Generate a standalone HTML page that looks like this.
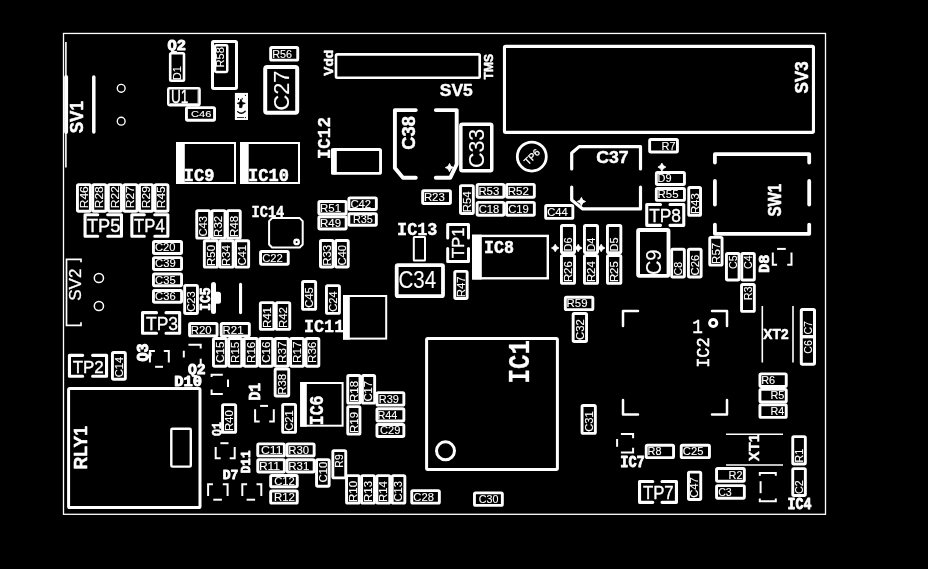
<!DOCTYPE html>
<html><head><meta charset="utf-8"><title>PCB silkscreen</title>
<style>html,body{margin:0;padding:0;background:#000;overflow:hidden}svg{display:block;will-change:transform}
text{font-size:200px;fill:#fff;stroke:#fff;stroke-linejoin:round;font-family:"Liberation Sans",sans-serif}
text.sb{font-weight:bold}
text.m,text.mb{font-family:"Liberation Mono",monospace}
text.mb{font-weight:bold}
</style></head>
<body><svg width="928" height="569" viewBox="0 0 928 569" fill="none" stroke="#fff">
<rect x="0" y="0" width="928" height="569" fill="#000" stroke="none"/>
<rect x="63.5" y="33.45" width="762" height="480.85" rx="0" stroke-width="1.3"/>
<path d="M65.9 42L65.9 167.5" stroke-width="1.6" stroke-linecap="butt"/>
<path d="M66.1 77L66.1 132" stroke-width="4" stroke-linecap="round"/>
<path d="M93.8 77L93.8 132" stroke-width="3.5" stroke-linecap="round"/>
<text class="sb" transform="translate(83.5 132.7) rotate(-90) scale(0.08501 0.08803) translate(-6 -2)" stroke-width="5.78">SV1</text>
<circle cx="121.2" cy="88.3" r="3.9" stroke-width="1.4"/>
<circle cx="121.2" cy="121.2" r="3.9" stroke-width="1.4"/>
<text class="mb" transform="translate(168 50.5) rotate(0) scale(0.07692 0.07500) translate(-7 -2)" stroke-width="13.16">Q2</text>
<rect x="170.2" y="53.3" width="13.8" height="27.4" rx="1.2" stroke-width="2.6"/>
<text class="s" transform="translate(180.6 79.3) rotate(-90) scale(0.05522 0.05290) translate(-16 0)" stroke-width="2.22">D1</text>
<rect x="212.5" y="41.5" width="24" height="47" rx="1.2" stroke-width="3"/>
<rect x="215.05" y="45.15" width="12.2" height="26.9" rx="1.2" stroke-width="2.5"/>
<text class="s" transform="translate(224.5 66.5) rotate(-90) scale(0.05539 0.05282) translate(-16 -2)" stroke-width="2.22">R58</text>
<rect x="168.25" y="88.25" width="31.3" height="17" rx="1.2" stroke-width="2.5"/>
<text class="s" transform="translate(172 103.4) rotate(0) scale(0.06840 0.09071) translate(-15 -2)" stroke-width="3.77">U1</text>
<path d="M170 103.6L198 103.6" stroke-width="0.8" stroke-linecap="butt"/>
<path d="M198 90L198 104" stroke-width="0.8" stroke-linecap="butt"/>
<rect x="186.45" y="107.65" width="28.1" height="12.6" rx="1.2" stroke-width="2.9"/>
<text class="s" transform="translate(191.5 117.5) rotate(0) scale(0.05587 0.04930) translate(-10 -2)" stroke-width="2.28">C46</text>
<rect x="234.9" y="92.9" width="13.1" height="27.1" fill="#fff" stroke="none"/>
<g stroke="#000" fill="#000" stroke-linecap="round" stroke-linejoin="round"><title>IC3</title><path d="M241 99.5L242.3 102.5L245.3 103.3L242.3 104.3L241.8 107.6L239.6 107.6L239.8 104.3L237.3 103.3L239.6 102.5Z" stroke-width="0.9"/><path d="M238.5 98.5L238.5 99.6M242.2 98.3L242.2 99.2M245.4 95.3L245.4 95.6M245.4 117.4L245.4 117.7" stroke-width="1"/><path d="M237.6 111.6Q241.3 115.2 245.2 111.2" fill="none" stroke-width="1.3"/><path d="M237.4 117.5L243.6 117.5" stroke-width="0.8"/></g>
<rect x="270.65" y="47.45" width="27.1" height="12.7" rx="1.2" stroke-width="2.9"/>
<text class="s" transform="translate(273 58) rotate(0) scale(0.05394 0.05211) translate(-16 -2)" stroke-width="2.26">R56</text>
<rect x="265.2" y="67" width="32" height="45.7" rx="2" stroke-width="4"/>
<text class="s" transform="translate(289.4 109.4) rotate(-90) scale(0.10865 0.11338) translate(-10 -2)" stroke="none">C27</text>
<rect x="336" y="54.4" width="143.7" height="23.3" rx="1.2" stroke-width="2.6"/>
<text class="sb" transform="translate(333 75.6) rotate(-90) scale(0.06868 0.06599) translate(-1 -2)" stroke-width="7.43">Vdd</text>
<text class="sb" transform="translate(492.7 79.3) rotate(-90) scale(0.06053 0.06831) translate(-2 -2)" stroke-width="7.76">TMS</text>
<text class="sb" transform="translate(440.3 96.5) rotate(0) scale(0.08719 0.08451) translate(-6 -2)" stroke-width="5.82">SV5</text>
<rect x="504.45" y="46.35" width="309" height="86" rx="1.2" stroke-width="3.1"/>
<text class="sb" transform="translate(808 93) rotate(-90) scale(0.08493 0.08803) translate(-6 -2)" stroke-width="5.78">SV3</text>
<rect x="177" y="143" width="58" height="40" rx="0" stroke-width="2"/>
<rect x="176" y="142" width="8.8" height="42" fill="#fff" stroke="none"/>
<text class="mb" transform="translate(185 181) rotate(0) scale(0.08529 0.09559) translate(-15 -2)" stroke-width="5.53">IC9</text>
<rect x="241" y="143" width="58" height="40" rx="0" stroke-width="2"/>
<rect x="240" y="142" width="8.7" height="42" fill="#fff" stroke="none"/>
<text class="mb" transform="translate(249.2 181) rotate(0) scale(0.08546 0.09559) translate(-15 -2)" stroke-width="5.52">IC10</text>
<rect x="332.55" y="149.45" width="48" height="23.9" rx="1.2" stroke-width="2.9"/>
<rect x="331.1" y="148.5" width="5.7" height="25.8" fill="#fff" stroke="none"/>
<text class="mb" transform="translate(330 158) rotate(-90) scale(0.08830 0.08824) translate(-15 -2)" stroke-width="4.53">IC12</text>
<path d="M415.8 110.1L394.9 110.1L394.9 168L403 177.8L415.8 177.8" stroke-width="3.9" stroke-linecap="round" stroke-linejoin="round"/>
<path d="M435.8 110.1L456.7 110.1L456.7 164.3L450.2 177.8L435.8 177.8" stroke-width="3.9" stroke-linecap="round" stroke-linejoin="round"/>
<path d="M449.5 163.4L450.9 166.2L453.7 167.6L450.9 169L449.5 171.8L448.1 169L445.3 167.6L448.1 166.2Z" fill="#fff" stroke-width="0.8" stroke-linejoin="round"/>
<text class="sb" transform="translate(415.2 149) rotate(-90) scale(0.09150 0.09296) translate(-8 -2)" stroke-width="5.42">C38</text>
<rect x="460.85" y="124.15" width="30.9" height="46.7" rx="1.5" stroke-width="3.5"/>
<text class="s" transform="translate(484 167) rotate(-90) scale(0.10716 0.11268) translate(-10 -2)" stroke="none">C33</text>
<circle cx="531.8" cy="156.6" r="14.5" stroke-width="2.8"/>
<text transform="translate(531.8 156.6) rotate(-45)" x="0" y="3.6" text-anchor="middle" style="font-size:9.8px" stroke-width="0.3">TP6</text>
<path d="M571.7 169L571.7 153L579.2 146.6L640.5 146.6L640.5 169" stroke-width="3.2" stroke-linecap="round" stroke-linejoin="round"/>
<path d="M571.7 187L571.7 200L582.7 208.9L640.5 208.9L640.5 187" stroke-width="3.2" stroke-linecap="round" stroke-linejoin="round"/>
<path d="M581.4 197.3L582.8 200.1L585.6 201.5L582.8 202.9L581.4 205.7L580 202.9L577.2 201.5L580 200.1Z" fill="#fff" stroke-width="0.8" stroke-linejoin="round"/>
<text class="sb" transform="translate(597 163) rotate(0) scale(0.08832 0.08451) translate(-8 -2)" stroke-width="5.79">C37</text>
<rect x="649.65" y="139.45" width="27.8" height="12.5" rx="1.2" stroke-width="2.9"/>
<text class="s" transform="translate(662.5 149.7) rotate(0) scale(0.05502 0.05797) translate(-16 0)" stroke-width="2.12">R7</text>
<path d="M661.9 163.1L663.4 165.6L665.9 167.1L663.4 168.6L661.9 171.1L660.4 168.6L657.9 167.1L660.4 165.6Z" fill="#fff" stroke-width="0.8" stroke-linejoin="round"/>
<rect x="656.35" y="172.55" width="28.1" height="12" rx="1.2" stroke-width="2.9"/>
<text class="s" transform="translate(658.5 182.55) rotate(0) scale(0.05478 0.05634) translate(-16 -2)" stroke-width="2.16">D9</text>
<rect x="656.35" y="188.45" width="28.1" height="11.9" rx="1.2" stroke-width="2.9"/>
<text class="s" transform="translate(658.5 198.4) rotate(0) scale(0.05714 0.05714) translate(-16 -2)" stroke-width="2.1">R55</text>
<rect x="688.75" y="187.55" width="11.8" height="27.8" rx="1.2" stroke-width="2.9"/>
<text class="s" transform="translate(698.65 213.2) rotate(-90) scale(0.05714 0.05634) translate(-16 -2)" stroke-width="2.11">R43</text>
<rect x="422.65" y="190.75" width="27.8" height="12.7" rx="1.2" stroke-width="2.9"/>
<text class="s" transform="translate(424.8 201.1) rotate(0) scale(0.05714 0.05634) translate(-16 -2)" stroke-width="2.11">R23</text>
<rect x="460.45" y="185.65" width="12.9" height="27.9" rx="1.2" stroke-width="2.9"/>
<text class="s" transform="translate(470.9 211.4) rotate(-90) scale(0.05681 0.05714) translate(-16 -2)" stroke-width="2.11">R54</text>
<rect x="477.15" y="184.35" width="26.7" height="12.9" rx="1.2" stroke-width="2.9"/>
<text class="s" transform="translate(479.3 194.8) rotate(0) scale(0.05714 0.05634) translate(-16 -2)" stroke-width="2.11">R53</text>
<rect x="477.15" y="202.35" width="26.7" height="12.9" rx="1.2" stroke-width="2.9"/>
<text class="s" transform="translate(479.3 212.8) rotate(0) scale(0.05616 0.05634) translate(-10 -2)" stroke-width="2.13">C18</text>
<rect x="506.55" y="184.35" width="27.8" height="12.9" rx="1.2" stroke-width="2.9"/>
<text class="s" transform="translate(508.7 194.8) rotate(0) scale(0.05748 0.05634) translate(-16 -2)" stroke-width="2.11">R52</text>
<rect x="506.55" y="202.35" width="27.8" height="12.9" rx="1.2" stroke-width="2.9"/>
<text class="s" transform="translate(508.7 212.8) rotate(0) scale(0.05632 0.05634) translate(-10 -2)" stroke-width="2.13">C19</text>
<rect x="545.65" y="205.45" width="27.2" height="12.9" rx="1.2" stroke-width="2.9"/>
<text class="s" transform="translate(547.8 215.9) rotate(0) scale(0.05584 0.05634) translate(-10 -2)" stroke-width="2.14">C44</text>
<rect x="318.85" y="201.45" width="27.3" height="12.4" rx="1.2" stroke-width="2.9"/>
<text class="s" transform="translate(321 211.65) rotate(0) scale(0.05731 0.05714) translate(-16 -2)" stroke-width="2.1">R51</text>
<rect x="318.85" y="216.75" width="27.3" height="12.2" rx="1.2" stroke-width="2.9"/>
<text class="s" transform="translate(321 226.85) rotate(0) scale(0.05731 0.05634) translate(-16 -2)" stroke-width="2.11">R49</text>
<rect x="348.85" y="197.85" width="27.5" height="11.7" rx="1.2" stroke-width="2.9"/>
<text class="s" transform="translate(351 207.7) rotate(0) scale(0.05648 0.05634) translate(-10 -2)" stroke-width="2.13">C42</text>
<rect x="348.85" y="213.75" width="27.5" height="11.5" rx="1.2" stroke-width="2.9"/>
<text class="s" transform="translate(353.8 223.3) rotate(0) scale(0.05452 0.05493) translate(-16 -2)" stroke-width="2.19">R35</text>
<rect x="320.45" y="240.55" width="12.7" height="26.5" rx="1.2" stroke-width="2.9"/>
<text class="s" transform="translate(330.8 264.9) rotate(-90) scale(0.05714 0.05634) translate(-16 -2)" stroke-width="2.11">R33</text>
<rect x="335.55" y="240.55" width="12.7" height="26.5" rx="1.2" stroke-width="2.9"/>
<text class="s" transform="translate(345.9 264.9) rotate(-90) scale(0.05600 0.05634) translate(-10 -2)" stroke-width="2.14">C40</text>
<rect x="77.45" y="184.65" width="12.92" height="26.6" rx="1.2" stroke-width="2.9"/>
<text class="s" transform="translate(87.91 207.3) rotate(-90) scale(0.06006 0.05634) translate(-16 -2)" stroke-width="2.06">R46</text>
<rect x="92.77" y="184.65" width="13.17" height="26.6" rx="1.2" stroke-width="2.9"/>
<text class="s" transform="translate(103.35 207.3) rotate(-90) scale(0.06006 0.05634) translate(-16 -2)" stroke-width="2.06">R28</text>
<rect x="108.33" y="184.65" width="13.17" height="26.6" rx="1.2" stroke-width="2.9"/>
<text class="s" transform="translate(118.92 207.3) rotate(-90) scale(0.06041 0.05714) translate(-16 0)" stroke-width="2.04">R22</text>
<rect x="123.9" y="184.65" width="13.17" height="26.6" rx="1.2" stroke-width="2.9"/>
<text class="s" transform="translate(134.48 207.3) rotate(-90) scale(0.06041 0.05714) translate(-16 0)" stroke-width="2.04">R27</text>
<rect x="139.47" y="184.65" width="13.17" height="26.6" rx="1.2" stroke-width="2.9"/>
<text class="s" transform="translate(150.05 207.3) rotate(-90) scale(0.06023 0.05634) translate(-16 -2)" stroke-width="2.06">R29</text>
<rect x="155.03" y="184.65" width="12.92" height="26.6" rx="1.2" stroke-width="2.9"/>
<text class="s" transform="translate(165.49 207.3) rotate(-90) scale(0.06006 0.05714) translate(-16 -2)" stroke-width="2.05">R45</text>
<path d="M97.7 214.75L85.05 214.75L85.05 236.25L97.7 236.25" stroke-width="3.1" stroke-linecap="round" stroke-linejoin="round"/>
<path d="M107.7 214.75L121.45 214.75L121.45 236.25L107.7 236.25" stroke-width="3.1" stroke-linecap="round" stroke-linejoin="round"/>
<text class="s" transform="translate(87.3 232.3) rotate(0) scale(0.09127 0.09000) translate(-4 -2)" stroke-width="3.86">TP5</text>
<path d="M144.3 214.75L131.85 214.75L131.85 236.25L144.3 236.25" stroke-width="3.1" stroke-linecap="round" stroke-linejoin="round"/>
<path d="M154.8 214.75L167.85 214.75L167.85 236.25L154.8 236.25" stroke-width="3.1" stroke-linecap="round" stroke-linejoin="round"/>
<text class="s" transform="translate(134.4 232.3) rotate(0) scale(0.08347 0.09130) translate(-4 0)" stroke-width="4.01">TP4</text>
<path d="M156.5 312.65L142.55 312.65L142.55 333.25L156.5 333.25" stroke-width="3.1" stroke-linecap="round" stroke-linejoin="round"/>
<path d="M166 312.65L179.65 312.65L179.65 333.25L166 333.25" stroke-width="3.1" stroke-linecap="round" stroke-linejoin="round"/>
<text class="s" transform="translate(146.4 330.4) rotate(0) scale(0.08732 0.09155) translate(-4 -2)" stroke-width="3.91">TP3</text>
<path d="M82.7 355.35L69.45 355.35L69.45 376.25L82.7 376.25" stroke-width="3.1" stroke-linecap="round" stroke-linejoin="round"/>
<path d="M92.6 355.35L106.55 355.35L106.55 376.25L92.6 376.25" stroke-width="3.1" stroke-linecap="round" stroke-linejoin="round"/>
<text class="s" transform="translate(73 372.8) rotate(0) scale(0.08499 0.08571) translate(-4 0)" stroke-width="4.1">TP2</text>
<path d="M660.5 204.55L646.75 204.55L646.75 225.35L660.5 225.35" stroke-width="3.1" stroke-linecap="round" stroke-linejoin="round"/>
<path d="M670 204.55L683.75 204.55L683.75 225.35L670 225.35" stroke-width="3.1" stroke-linecap="round" stroke-linejoin="round"/>
<text class="s" transform="translate(649.5 221.9) rotate(0) scale(0.08676 0.08944) translate(-4 -2)" stroke-width="3.97">TP8</text>
<path d="M652.8 481.55L639.55 481.55L639.55 502.35L652.8 502.35" stroke-width="3.1" stroke-linecap="round" stroke-linejoin="round"/>
<path d="M662 481.55L676.45 481.55L676.45 502.35L662 502.35" stroke-width="3.1" stroke-linecap="round" stroke-linejoin="round"/>
<text class="s" transform="translate(643.3 499.1) rotate(0) scale(0.08385 0.09058) translate(-4 0)" stroke-width="4.01">TP7</text>
<rect x="196.75" y="210.65" width="12.82" height="27.5" rx="1.2" stroke-width="2.9"/>
<text class="s" transform="translate(207.16 236) rotate(-90) scale(0.05616 0.05634) translate(-10 -2)" stroke-width="2.13">C43</text>
<rect x="211.97" y="210.65" width="13.07" height="27.5" rx="1.2" stroke-width="2.9"/>
<text class="s" transform="translate(222.5 236) rotate(-90) scale(0.05748 0.05634) translate(-16 -2)" stroke-width="2.11">R32</text>
<rect x="227.43" y="210.65" width="12.82" height="27.5" rx="1.2" stroke-width="2.9"/>
<text class="s" transform="translate(237.84 236) rotate(-90) scale(0.05714 0.05634) translate(-16 -2)" stroke-width="2.11">R48</text>
<rect x="204.35" y="240.75" width="13.08" height="26.4" rx="1.2" stroke-width="2.9"/>
<text class="s" transform="translate(214.89 265) rotate(-90) scale(0.05698 0.05634) translate(-16 -2)" stroke-width="2.12">R50</text>
<rect x="219.83" y="240.75" width="13.33" height="26.4" rx="1.2" stroke-width="2.9"/>
<text class="s" transform="translate(230.5 265) rotate(-90) scale(0.05681 0.05634) translate(-16 -2)" stroke-width="2.12">R34</text>
<rect x="235.57" y="240.75" width="13.08" height="26.4" rx="1.2" stroke-width="2.9"/>
<text class="s" transform="translate(246.11 265) rotate(-90) scale(0.05632 0.05634) translate(-10 -2)" stroke-width="2.13">C41</text>
<rect x="153.45" y="241.45" width="28.1" height="12" rx="1.2" stroke-width="2.9"/>
<text class="s" transform="translate(155.6 251.45) rotate(0) scale(0.05600 0.05634) translate(-10 -2)" stroke-width="2.14">C20</text>
<rect x="153.45" y="257.65" width="28.1" height="11.8" rx="1.2" stroke-width="2.9"/>
<text class="s" transform="translate(155.6 267.55) rotate(0) scale(0.05632 0.05634) translate(-10 -2)" stroke-width="2.13">C39</text>
<rect x="153.45" y="273.95" width="28.1" height="11.8" rx="1.2" stroke-width="2.9"/>
<text class="s" transform="translate(155.6 283.85) rotate(0) scale(0.05616 0.05634) translate(-10 -2)" stroke-width="2.13">C35</text>
<rect x="153.45" y="290.45" width="28.1" height="11.8" rx="1.2" stroke-width="2.9"/>
<text class="s" transform="translate(155.6 300.35) rotate(0) scale(0.05616 0.05634) translate(-10 -2)" stroke-width="2.13">C36</text>
<text class="mb" transform="translate(252.5 216.9) rotate(0) scale(0.06841 0.07794) translate(-15 -2)" stroke-width="5.47">IC14</text>
<path d="M272.1 218.1L299.7 218.1L302.7 221.1L302.7 244.5L299.7 247.5L272.1 247.5L269.1 244.5L269.1 221.1Z" stroke-width="2" stroke-linecap="round" stroke-linejoin="round"/>
<circle cx="296.6" cy="241.9" r="2.2" stroke-width="2.4"/>
<rect x="260.55" y="251.55" width="27.7" height="12.7" rx="1.2" stroke-width="2.9"/>
<text class="s" transform="translate(262.7 261.9) rotate(0) scale(0.05648 0.05634) translate(-10 -2)" stroke-width="2.13">C22</text>
<text class="mb" transform="translate(398.3 234.7) rotate(0) scale(0.08418 0.09044) translate(-15 -2)" stroke-width="4.58">IC13</text>
<rect x="413.8" y="237" width="11.2" height="23.5" rx="0.5" stroke-width="2"/>
<path d="M447.7 238L447.7 224.4L468.5 224.4L468.5 238" stroke-width="3" stroke-linecap="round" stroke-linejoin="round"/>
<path d="M447.7 248.6L447.7 261.4L468.5 261.4L468.5 248.6" stroke-width="3" stroke-linecap="round" stroke-linejoin="round"/>
<text class="s" transform="translate(464 258) rotate(-90) scale(0.08475 0.08696) translate(-4 0)" stroke-width="4.08">TP1</text>
<rect x="473.3" y="235.9" width="74.5" height="42.4" rx="0" stroke-width="2.4"/>
<rect x="472.1" y="234.7" width="9.7" height="44.8" fill="#fff" stroke="none"/>
<text class="mb" transform="translate(485.3 252.8) rotate(0) scale(0.08293 0.09044) translate(-15 -2)" stroke-width="5.77">IC8</text>
<rect x="396.7" y="265.2" width="46.3" height="30.9" rx="1.2" stroke-width="3.8"/>
<text class="s" transform="translate(399.5 288) rotate(0) scale(0.10256 0.11620) translate(-10 -2)" stroke="none">C34</text>
<rect x="454.75" y="271.35" width="12.4" height="27.2" rx="1.2" stroke-width="2.9"/>
<text class="s" transform="translate(464.95 296.4) rotate(-90) scale(0.05748 0.05797) translate(-16 0)" stroke-width="2.08">R47</text>
<rect x="561.45" y="225.45" width="13.1" height="27.3" rx="1.2" stroke-width="2.9"/>
<text class="s" transform="translate(572 250.6) rotate(-90) scale(0.05455 0.05634) translate(-16 -2)" stroke-width="2.16">D6</text>
<rect x="561.45" y="255.45" width="13.1" height="27.9" rx="1.2" stroke-width="2.9"/>
<text class="s" transform="translate(572 281.2) rotate(-90) scale(0.05714 0.05634) translate(-16 -2)" stroke-width="2.11">R26</text>
<path d="M555.2 244.2L556.6 246.6L559 248L556.6 249.4L555.2 251.8L553.8 249.4L551.4 248L553.8 246.6Z" fill="#fff" stroke-width="0.8" stroke-linejoin="round"/>
<rect x="584.45" y="225.45" width="13.1" height="27.3" rx="1.2" stroke-width="2.9"/>
<text class="s" transform="translate(595 250.6) rotate(-90) scale(0.05408 0.05797) translate(-16 0)" stroke-width="2.14">D4</text>
<rect x="584.45" y="255.45" width="13.1" height="27.9" rx="1.2" stroke-width="2.9"/>
<text class="s" transform="translate(595 281.2) rotate(-90) scale(0.05681 0.05714) translate(-16 0)" stroke-width="2.11">R24</text>
<path d="M578.2 244.2L579.6 246.6L582 248L579.6 249.4L578.2 251.8L576.8 249.4L574.4 248L576.8 246.6Z" fill="#fff" stroke-width="0.8" stroke-linejoin="round"/>
<rect x="607.45" y="225.45" width="13.4" height="27.3" rx="1.2" stroke-width="2.9"/>
<text class="s" transform="translate(618.15 250.6) rotate(-90) scale(0.05455 0.05714) translate(-16 -2)" stroke-width="2.15">D5</text>
<rect x="607.45" y="255.45" width="13.4" height="27.9" rx="1.2" stroke-width="2.9"/>
<text class="s" transform="translate(618.15 281.2) rotate(-90) scale(0.05714 0.05634) translate(-16 -2)" stroke-width="2.11">R25</text>
<path d="M601.2 244.2L602.6 246.6L605 248L602.6 249.4L601.2 251.8L599.8 249.4L597.4 248L599.8 246.6Z" fill="#fff" stroke-width="0.8" stroke-linejoin="round"/>
<rect x="638.1" y="230" width="30.4" height="45.8" rx="1.2" stroke-width="3.8"/>
<text class="s" transform="translate(661 274) rotate(-90) scale(0.09958 0.10915) translate(-10 -2)" stroke="none">C9</text>
<rect x="671.65" y="249.25" width="12.7" height="27.8" rx="1.2" stroke-width="2.9"/>
<text class="s" transform="translate(682 274.9) rotate(-90) scale(0.05316 0.05634) translate(-10 -2)" stroke-width="2.19">C8</text>
<rect x="688.45" y="249.25" width="12.7" height="27.8" rx="1.2" stroke-width="2.9"/>
<text class="s" transform="translate(698.8 274.9) rotate(-90) scale(0.05616 0.05634) translate(-10 -2)" stroke-width="2.13">C26</text>
<rect x="709.75" y="237.35" width="12.3" height="27.8" rx="1.2" stroke-width="2.9"/>
<text class="s" transform="translate(719.9 263) rotate(-90) scale(0.05748 0.05714) translate(-16 -2)" stroke-width="2.09">R57</text>
<rect x="726.45" y="253.45" width="12.6" height="26.5" rx="1.2" stroke-width="2.9"/>
<text class="s" transform="translate(736.75 268.4) rotate(-90) scale(0.05316 0.05634) translate(-10 -2)" stroke-width="2.19">C5</text>
<rect x="741.75" y="253.45" width="12.6" height="26.5" rx="1.2" stroke-width="2.9"/>
<text class="s" transform="translate(752.05 268.4) rotate(-90) scale(0.05272 0.05634) translate(-10 -2)" stroke-width="2.2">C4</text>
<rect x="741.55" y="284.55" width="12.8" height="26.8" rx="1.2" stroke-width="2.9"/>
<text class="s" transform="translate(751.95 299.5) rotate(-90) scale(0.05455 0.05634) translate(-16 -2)" stroke-width="2.16">R3</text>
<path d="M714.9 162.6L714.9 154.2L809.2 154.2L809.2 162.6" stroke-width="3.8" stroke-linecap="round" stroke-linejoin="round"/>
<path d="M714.9 224.6L714.9 233.8L809.2 233.8L809.2 224.6" stroke-width="3.8" stroke-linecap="round" stroke-linejoin="round"/>
<path d="M714.9 181L714.9 204.6" stroke-width="3.8" stroke-linecap="round"/>
<path d="M809.2 181L809.2 204.6" stroke-width="3.8" stroke-linecap="round"/>
<text class="sb" transform="translate(781.3 216.1) rotate(-90) scale(0.07536 0.09366) translate(-6 -2)" stroke-width="5.92">SW1</text>
<text class="mb" transform="translate(768.8 271.7) rotate(-90) scale(0.07546 0.07353) translate(-13 -2)" stroke-width="10.74">D8</text>
<path d="M772.8 253.6L772.8 264.8L776.1 264.8" stroke-width="2" stroke-linecap="square" stroke-linejoin="miter"/>
<path d="M791.5 253.6L791.5 264.8L788.2 264.8" stroke-width="2" stroke-linecap="square" stroke-linejoin="miter"/>
<path d="M777.1 248.9L785.8 248.9" stroke-width="2" stroke-linecap="butt"/>
<path d="M81 262.3L81 259.3L66.5 259.3L66.5 325.3L81 325.3L81 322.3" stroke-width="1.7" stroke-linecap="butt" stroke-linejoin="miter"/>
<text class="s" transform="translate(81 300) rotate(-90) scale(0.08496 0.08451) translate(-9 -2)" stroke-width="3.54">SV2</text>
<circle cx="98.9" cy="278" r="4.6" stroke-width="1.5"/>
<circle cx="98.9" cy="306" r="4.6" stroke-width="1.5"/>
<rect x="184.65" y="285.35" width="12.8" height="28.1" rx="1.2" stroke-width="2.9"/>
<text class="s" transform="translate(195.05 311.3) rotate(-90) scale(0.05616 0.05634) translate(-10 -2)" stroke-width="2.13">C23</text>
<text class="mb" transform="translate(210 310) rotate(-90) scale(0.06567 0.07353) translate(-15 -2)" stroke-width="11.49">IC5</text>
<path d="M213.5 284.5L213.5 311.6" stroke-width="5" stroke-linecap="round"/>
<rect x="214" y="291.7" width="7" height="12" rx="2.5" fill="#fff" stroke="none"/>
<path d="M240.55 284.4L240.55 312.6" stroke-width="3.1" stroke-linecap="round"/>
<rect x="260.35" y="302.65" width="13.5" height="26.7" rx="1.2" stroke-width="2.9"/>
<text class="s" transform="translate(271.1 327.2) rotate(-90) scale(0.05731 0.05797) translate(-16 0)" stroke-width="2.08">R41</text>
<rect x="276.25" y="302.65" width="13.5" height="26.7" rx="1.2" stroke-width="2.9"/>
<text class="s" transform="translate(287 327.2) rotate(-90) scale(0.05748 0.05714) translate(-16 0)" stroke-width="2.09">R42</text>
<rect x="302.55" y="281.45" width="13.1" height="27.9" rx="1.2" stroke-width="2.9"/>
<text class="s" transform="translate(313.1 307.2) rotate(-90) scale(0.05616 0.05634) translate(-10 -2)" stroke-width="2.13">C45</text>
<rect x="326.45" y="285.65" width="13" height="27.7" rx="1.2" stroke-width="2.9"/>
<text class="s" transform="translate(336.95 311.2) rotate(-90) scale(0.05584 0.05634) translate(-10 -2)" stroke-width="2.14">C24</text>
<rect x="344" y="296" width="42.2" height="42.6" rx="0" stroke-width="2"/>
<rect x="343" y="295" width="6.8" height="44.6" fill="#fff" stroke="none"/>
<text class="mb" transform="translate(305.3 331.9) rotate(0) scale(0.08359 0.09118) translate(-15 -2)" stroke-width="4.58">IC11</text>
<rect x="189.55" y="323.55" width="27.5" height="12.3" rx="1.2" stroke-width="2.9"/>
<text class="s" transform="translate(191.7 333.7) rotate(0) scale(0.05698 0.05634) translate(-16 -2)" stroke-width="2.12">R20</text>
<rect x="221.25" y="323.55" width="28.1" height="12.3" rx="1.2" stroke-width="2.9"/>
<text class="s" transform="translate(223.4 333.7) rotate(0) scale(0.05731 0.05714) translate(-16 0)" stroke-width="2.1">R21</text>
<rect x="213.45" y="338.45" width="12.82" height="27.8" rx="1.2" stroke-width="2.9"/>
<text class="s" transform="translate(223.86 362.1) rotate(-90) scale(0.05731 0.05634) translate(-10 -2)" stroke-width="2.11">C15</text>
<rect x="228.67" y="338.45" width="13.07" height="27.8" rx="1.2" stroke-width="2.9"/>
<text class="s" transform="translate(239.21 362.1) rotate(-90) scale(0.05831 0.05714) translate(-16 -2)" stroke-width="2.08">R15</text>
<rect x="244.14" y="338.45" width="13.07" height="27.8" rx="1.2" stroke-width="2.9"/>
<text class="s" transform="translate(254.68 362.1) rotate(-90) scale(0.05831 0.05634) translate(-16 -2)" stroke-width="2.09">R16</text>
<rect x="259.61" y="338.45" width="13.07" height="27.8" rx="1.2" stroke-width="2.9"/>
<text class="s" transform="translate(270.15 362.1) rotate(-90) scale(0.05731 0.05634) translate(-10 -2)" stroke-width="2.11">C16</text>
<rect x="275.09" y="338.45" width="13.07" height="27.8" rx="1.2" stroke-width="2.9"/>
<text class="s" transform="translate(285.62 362.1) rotate(-90) scale(0.05865 0.05634) translate(-16 -2)" stroke-width="2.09">R37</text>
<rect x="290.56" y="338.45" width="13.07" height="27.8" rx="1.2" stroke-width="2.9"/>
<text class="s" transform="translate(301.09 362.1) rotate(-90) scale(0.05865 0.05797) translate(-16 0)" stroke-width="2.06">R17</text>
<rect x="306.03" y="338.45" width="12.82" height="27.8" rx="1.2" stroke-width="2.9"/>
<text class="s" transform="translate(316.44 362.1) rotate(-90) scale(0.05831 0.05634) translate(-16 -2)" stroke-width="2.09">R36</text>
<rect x="275.15" y="368.95" width="13.6" height="27.1" rx="1.2" stroke-width="2.9"/>
<text class="s" transform="translate(285.95 393.9) rotate(-90) scale(0.05714 0.05634) translate(-16 -2)" stroke-width="2.11">R38</text>
<rect x="112.45" y="352.45" width="12.9" height="26.8" rx="1.2" stroke-width="2.9"/>
<text class="s" transform="translate(122.9 376.7) rotate(-90) scale(0.05584 0.05634) translate(-10 -2)" stroke-width="2.14">C14</text>
<text class="mb" transform="translate(148.3 361) rotate(-90) scale(0.07534 0.08235) translate(-7 -2)" stroke-width="12.68">Q3</text>
<path d="M149.9 361.5L149.9 350.9L153.9 350.9" stroke-width="2" stroke-linecap="square" stroke-linejoin="miter"/>
<path d="M168.8 361.5L168.8 350.9L164.8 350.9" stroke-width="2" stroke-linecap="square" stroke-linejoin="miter"/>
<path d="M155.1 366.8L163 366.8" stroke-width="2" stroke-linecap="butt"/>
<path d="M188.4 344.8L200.7 344.8L200.7 348.6" stroke-width="2" stroke-linecap="butt" stroke-linejoin="miter"/>
<path d="M183.8 350.7L183.8 357.5" stroke-width="2" stroke-linecap="butt"/>
<path d="M200.7 358.7L200.7 364" stroke-width="2" stroke-linecap="butt"/>
<text class="mb" transform="translate(188.5 374.2) rotate(0) scale(0.07330 0.07721) translate(-7 -2)" stroke-width="13.29">Q2</text>
<text class="mb" transform="translate(175.2 386.5) rotate(0) scale(0.07738 0.07353) translate(-13 -2)" stroke-width="13.25">D10</text>
<path d="M222.8 374.7L211.6 374.7L211.6 377" stroke-width="2" stroke-linecap="butt" stroke-linejoin="miter"/>
<path d="M211.6 389.5L211.6 394.1L222.8 394.1" stroke-width="2" stroke-linecap="butt" stroke-linejoin="miter"/>
<path d="M228 379.4L228 387" stroke-width="2" stroke-linecap="butt"/>
<rect x="68.6" y="388.6" width="131.4" height="119" rx="1.2" stroke-width="3"/>
<rect x="171.3" y="428.7" width="19.5" height="37.9" rx="1.2" stroke-width="2.4"/>
<text class="sb" transform="translate(87 468.3) rotate(-90) scale(0.08800 0.09275) translate(-13 0)" stroke-width="5.53">RLY1</text>
<rect x="222.55" y="404.65" width="13.1" height="27.7" rx="1.2" stroke-width="2.9"/>
<text class="s" transform="translate(233.1 430.2) rotate(-90) scale(0.05698 0.05634) translate(-16 -2)" stroke-width="2.12">R40</text>
<text class="mb" transform="translate(221.3 435.6) rotate(-90) scale(0.05867 0.06397) translate(-7 -2)" stroke-width="8.15">Q1</text>
<path d="M215.7 448L215.7 458.3L219.7 458.3" stroke-width="2" stroke-linecap="square" stroke-linejoin="miter"/>
<path d="M234.7 448L234.7 458.3L230.7 458.3" stroke-width="2" stroke-linecap="square" stroke-linejoin="miter"/>
<path d="M220.4 443.2L228.5 443.2" stroke-width="2" stroke-linecap="butt"/>
<text class="mb" transform="translate(260.2 399.6) rotate(-90) scale(0.07397 0.08106) translate(-13 0)" stroke-width="10.32">D1</text>
<path d="M255.1 410.2L255.1 421.4L258.7 421.4" stroke-width="2" stroke-linecap="square" stroke-linejoin="miter"/>
<path d="M273.8 410.2L273.8 421.4L270.2 421.4" stroke-width="2" stroke-linecap="square" stroke-linejoin="miter"/>
<path d="M260.1 405.9L268 405.9" stroke-width="2" stroke-linecap="butt"/>
<text class="mb" transform="translate(249.5 472.5) rotate(-90) scale(0.06342 0.06818) translate(-13 0)" stroke-width="12.16">D11</text>
<text class="mb" transform="translate(223.5 478.5) rotate(0) scale(0.06542 0.06061) translate(-13 0)" stroke-width="12.7">D7</text>
<path d="M208.1 495L208.1 484.2L211.9 484.2" stroke-width="2" stroke-linecap="square" stroke-linejoin="miter"/>
<path d="M227.6 495L227.6 484.2L223.8 484.2" stroke-width="2" stroke-linecap="square" stroke-linejoin="miter"/>
<path d="M213.3 499.7L221.9 499.7" stroke-width="2" stroke-linecap="butt"/>
<path d="M242.3 495L242.3 484.2L246.1 484.2" stroke-width="2" stroke-linecap="square" stroke-linejoin="miter"/>
<path d="M261.3 495L261.3 484.2L257.5 484.2" stroke-width="2" stroke-linecap="square" stroke-linejoin="miter"/>
<path d="M246.6 499.7L255.1 499.7" stroke-width="2" stroke-linecap="butt"/>
<rect x="282.65" y="404.35" width="12.9" height="28" rx="1.2" stroke-width="2.9"/>
<text class="s" transform="translate(293.1 430.2) rotate(-90) scale(0.05632 0.05634) translate(-10 -2)" stroke-width="2.13">C21</text>
<rect x="301.2" y="383" width="41.4" height="42.7" rx="0" stroke-width="2"/>
<rect x="300.2" y="382" width="6.6" height="44.7" fill="#fff" stroke="none"/>
<text class="mb" transform="translate(323.4 424) rotate(-90) scale(0.08263 0.09853) translate(-15 -2)" stroke-width="4.42">IC6</text>
<rect x="347.75" y="375.45" width="12.25" height="27.7" rx="1.2" stroke-width="2.9"/>
<text class="s" transform="translate(357.88 401) rotate(-90) scale(0.05714 0.05634) translate(-16 -2)" stroke-width="2.11">R18</text>
<rect x="362.4" y="375.45" width="12.25" height="27.7" rx="1.2" stroke-width="2.9"/>
<text class="s" transform="translate(372.53 401) rotate(-90) scale(0.05648 0.05634) translate(-10 -2)" stroke-width="2.13">C17</text>
<rect x="347.75" y="406.65" width="12.2" height="27.5" rx="1.2" stroke-width="2.9"/>
<text class="s" transform="translate(357.85 432) rotate(-90) scale(0.05731 0.05634) translate(-16 -2)" stroke-width="2.11">R19</text>
<rect x="376.95" y="392.65" width="26.9" height="12.5" rx="1.2" stroke-width="2.9"/>
<text class="s" transform="translate(379.7 403) rotate(0) scale(0.05497 0.05634) translate(-16 -2)" stroke-width="2.16">R39</text>
<rect x="376.95" y="408.75" width="26.9" height="12.2" rx="1.2" stroke-width="2.9"/>
<text class="s" transform="translate(378.3 419) rotate(0) scale(0.05420 0.05797) translate(-16 0)" stroke-width="2.14">R44</text>
<rect x="376.95" y="424.45" width="26.9" height="12" rx="1.2" stroke-width="2.9"/>
<text class="s" transform="translate(380.6 434.5) rotate(0) scale(0.05575 0.05634) translate(-10 -2)" stroke-width="2.14">C29</text>
<rect x="257.75" y="443.85" width="26.6" height="12" rx="1.2" stroke-width="2.9"/>
<text class="s" transform="translate(261.6 454) rotate(0) scale(0.06156 0.05563) translate(-10 -2)" stroke-width="2.05">C11</text>
<rect x="287.05" y="443.85" width="27.1" height="12" rx="1.2" stroke-width="2.9"/>
<text class="s" transform="translate(289.2 453.85) rotate(0) scale(0.05698 0.05634) translate(-16 -2)" stroke-width="2.12">R30</text>
<rect x="257.75" y="459.75" width="26.6" height="12.3" rx="1.2" stroke-width="2.9"/>
<text class="s" transform="translate(259.9 469.9) rotate(0) scale(0.05994 0.05797) translate(-16 0)" stroke-width="2.04">R11</text>
<rect x="287.05" y="459.75" width="27.1" height="12.3" rx="1.2" stroke-width="2.9"/>
<text class="s" transform="translate(289.2 469.9) rotate(0) scale(0.05731 0.05634) translate(-16 -2)" stroke-width="2.11">R31</text>
<rect x="270.65" y="475.45" width="26.6" height="11.3" rx="1.2" stroke-width="2.9"/>
<text class="s" transform="translate(274.8 484.9) rotate(0) scale(0.05620 0.05563) translate(-10 -2)" stroke-width="2.15">C12</text>
<rect x="270.65" y="490.95" width="26.6" height="12.2" rx="1.2" stroke-width="2.9"/>
<text class="s" transform="translate(274.8 500.9) rotate(0) scale(0.05718 0.05643) translate(-16 0)" stroke-width="2.11">R12</text>
<rect x="316.55" y="459.65" width="12.6" height="26.6" rx="1.2" stroke-width="2.9"/>
<text class="s" transform="translate(326.8 481.9) rotate(-90) scale(0.05657 0.05563) translate(-10 -2)" stroke-width="2.14">C10</text>
<rect x="332.85" y="450.65" width="12.9" height="27.2" rx="1.2" stroke-width="2.9"/>
<text class="s" transform="translate(343.2 466.8) rotate(-90) scale(0.05217 0.05563) translate(-16 -2)" stroke-width="2.23">R9</text>
<rect x="346.55" y="475.65" width="12.65" height="27.5" rx="1.2" stroke-width="2.9"/>
<text class="s" transform="translate(356.88 501) rotate(-90) scale(0.05698 0.05634) translate(-16 -2)" stroke-width="2.12">R10</text>
<rect x="361.6" y="475.65" width="12.9" height="27.5" rx="1.2" stroke-width="2.9"/>
<text class="s" transform="translate(372.05 501) rotate(-90) scale(0.05714 0.05634) translate(-16 -2)" stroke-width="2.11">R13</text>
<rect x="376.9" y="475.65" width="12.9" height="27.5" rx="1.2" stroke-width="2.9"/>
<text class="s" transform="translate(387.35 501) rotate(-90) scale(0.05681 0.05797) translate(-16 0)" stroke-width="2.09">R14</text>
<rect x="392.2" y="475.65" width="12.65" height="27.5" rx="1.2" stroke-width="2.9"/>
<text class="s" transform="translate(402.52 501) rotate(-90) scale(0.05616 0.05634) translate(-10 -2)" stroke-width="2.13">C13</text>
<rect x="411.75" y="490.65" width="27.6" height="12.5" rx="1.2" stroke-width="2.9"/>
<text class="s" transform="translate(413.9 500.9) rotate(0) scale(0.05616 0.05634) translate(-10 -2)" stroke-width="2.13">C28</text>
<rect x="474.45" y="492.85" width="27.9" height="12.5" rx="1.2" stroke-width="2.9"/>
<text class="s" transform="translate(479.2 503.1) rotate(0) scale(0.05371 0.05634) translate(-10 -2)" stroke-width="2.18">C30</text>
<rect x="426.6" y="338.6" width="130.8" height="130.8" rx="1.2" stroke-width="3"/>
<circle cx="445.5" cy="450.8" r="9" stroke-width="3"/>
<text class="mb" transform="translate(529.3 381.8) rotate(-90) scale(0.12107 0.15000) translate(-15 -2)" stroke-width="1.48">IC1</text>
<rect x="565.35" y="297.25" width="27.5" height="12.4" rx="1.2" stroke-width="2.9"/>
<text class="s" transform="translate(567.5 307.45) rotate(0) scale(0.05731 0.05634) translate(-16 -2)" stroke-width="2.11">R59</text>
<rect x="573.15" y="313.45" width="13.4" height="28.1" rx="1.2" stroke-width="2.9"/>
<text class="s" transform="translate(583.85 339.4) rotate(-90) scale(0.05648 0.05634) translate(-10 -2)" stroke-width="2.13">C32</text>
<rect x="582.05" y="405.45" width="13.3" height="27.9" rx="1.2" stroke-width="2.9"/>
<text class="s" transform="translate(592.7 431.2) rotate(-90) scale(0.05632 0.05634) translate(-10 -2)" stroke-width="2.13">C31</text>
<path d="M638 311L623 311L623 326" stroke-width="2.5" stroke-linecap="round" stroke-linejoin="round"/>
<path d="M712 311L727 311L727 326" stroke-width="2.5" stroke-linecap="round" stroke-linejoin="round"/>
<path d="M623 400L623 414.5L638 414.5" stroke-width="2.5" stroke-linecap="round" stroke-linejoin="round"/>
<path d="M727 400L727 414.5L712 414.5" stroke-width="2.5" stroke-linecap="round" stroke-linejoin="round"/>
<circle cx="713.2" cy="323" r="3.6" stroke-width="3"/>
<text class="m" transform="translate(693.5 332.7) rotate(0) scale(0.08854 0.10076) translate(-14 0)" stroke-width="5.28">1</text>
<text class="m" transform="translate(708.8 366.1) rotate(-90) scale(0.08436 0.09559) translate(-20 -2)" stroke-width="5.56">IC2</text>
<path d="M762.3 306L762.3 362.5" stroke-width="1.6" stroke-linecap="butt"/>
<path d="M793 306L793 362.5" stroke-width="1.6" stroke-linecap="butt"/>
<text class="sb" transform="translate(763.5 338.5) rotate(0) scale(0.06863 0.07500) translate(-2 0)" stroke-width="6.96">XT2</text>
<rect x="801.3" y="309.6" width="13.2" height="54.6" rx="1.2" stroke-width="3"/>
<path d="M800 336.7L815.8 336.7" stroke-width="3.3" stroke-linecap="butt"/>
<text class="s" transform="translate(812.3 334) rotate(-90) scale(0.05277 0.05775) translate(-10 -2)" stroke-width="2.17">C7</text>
<text class="s" transform="translate(812.3 353.2) rotate(-90) scale(0.05316 0.05775) translate(-10 -2)" stroke-width="2.16">C6</text>
<rect x="759.95" y="373.85" width="26.3" height="12.6" rx="1.2" stroke-width="2.9"/>
<text class="s" transform="translate(762.1 384.15) rotate(0) scale(0.05455 0.05634) translate(-16 -2)" stroke-width="2.16">R6</text>
<rect x="759.95" y="389.35" width="26.3" height="12.5" rx="1.2" stroke-width="2.9"/>
<text class="s" transform="translate(771.3 399.6) rotate(0) scale(0.05455 0.05714) translate(-16 -2)" stroke-width="2.15">R5</text>
<rect x="759.95" y="404.75" width="26.3" height="12.6" rx="1.2" stroke-width="2.9"/>
<text class="s" transform="translate(771.3 415.05) rotate(0) scale(0.05408 0.05797) translate(-16 0)" stroke-width="2.14">R4</text>
<path d="M620.9 434L633.1 434L633.1 438.2" stroke-width="2" stroke-linecap="butt" stroke-linejoin="miter"/>
<path d="M633.1 447.7L633.1 452.5L620.9 452.5" stroke-width="2" stroke-linecap="butt" stroke-linejoin="miter"/>
<path d="M617.1 439L617.1 446.8" stroke-width="2" stroke-linecap="butt"/>
<text class="mb" transform="translate(621.2 466.8) rotate(0) scale(0.06837 0.07868) translate(-15 -2)" stroke-width="10.88">IC7</text>
<rect x="646.25" y="445.25" width="27.3" height="12.4" rx="1.2" stroke-width="2.9"/>
<text class="s" transform="translate(648.4 455.45) rotate(0) scale(0.05455 0.05634) translate(-16 -2)" stroke-width="2.16">R8</text>
<rect x="681.25" y="445.25" width="28.2" height="12.4" rx="1.2" stroke-width="2.9"/>
<text class="s" transform="translate(683.4 455.45) rotate(0) scale(0.05616 0.05634) translate(-10 -2)" stroke-width="2.13">C25</text>
<path d="M726 434.2L783 434.2" stroke-width="1.6" stroke-linecap="butt"/>
<path d="M726 465L783 465" stroke-width="1.6" stroke-linecap="butt"/>
<text class="sb" transform="translate(758.6 461) rotate(-90) scale(0.07361 0.06957) translate(-2 0)" stroke-width="6.98">XT1</text>
<rect x="792.75" y="436.65" width="12.6" height="27.4" rx="1.2" stroke-width="2.9"/>
<text class="s" transform="translate(803.05 461.9) rotate(-90) scale(0.05478 0.05797) translate(-16 0)" stroke-width="2.13">R1</text>
<rect x="792.75" y="468.65" width="12.6" height="26.9" rx="1.2" stroke-width="2.9"/>
<text class="s" transform="translate(803.05 493.4) rotate(-90) scale(0.05362 0.05634) translate(-10 -2)" stroke-width="2.18">C2</text>
<text class="mb" transform="translate(788.6 508.9) rotate(0) scale(0.06667 0.07868) translate(-15 -2)" stroke-width="11.01">IC4</text>
<path d="M759.8 475.7L759.8 472.9L775.8 472.9L775.8 475.7" stroke-width="2" stroke-linecap="butt" stroke-linejoin="miter"/>
<path d="M760.6 481.2L760.6 493.2" stroke-width="2" stroke-linecap="butt"/>
<path d="M759.8 498.5L759.8 501.2L775.8 501.2L775.8 498.5" stroke-width="2" stroke-linecap="butt" stroke-linejoin="miter"/>
<rect x="716.55" y="468.55" width="27.8" height="12.7" rx="1.2" stroke-width="2.9"/>
<text class="s" transform="translate(729.4 478.9) rotate(0) scale(0.05502 0.05714) translate(-16 0)" stroke-width="2.14">R2</text>
<rect x="716.55" y="485.65" width="27.8" height="12.6" rx="1.2" stroke-width="2.9"/>
<text class="s" transform="translate(718.7 495.95) rotate(0) scale(0.05316 0.05634) translate(-10 -2)" stroke-width="2.19">C3</text>
<rect x="688.45" y="472.15" width="12.3" height="27.3" rx="1.2" stroke-width="2.9"/>
<text class="s" transform="translate(698.6 497.3) rotate(-90) scale(0.05648 0.05634) translate(-10 -2)" stroke-width="2.13">C47</text>
</svg></body></html>
